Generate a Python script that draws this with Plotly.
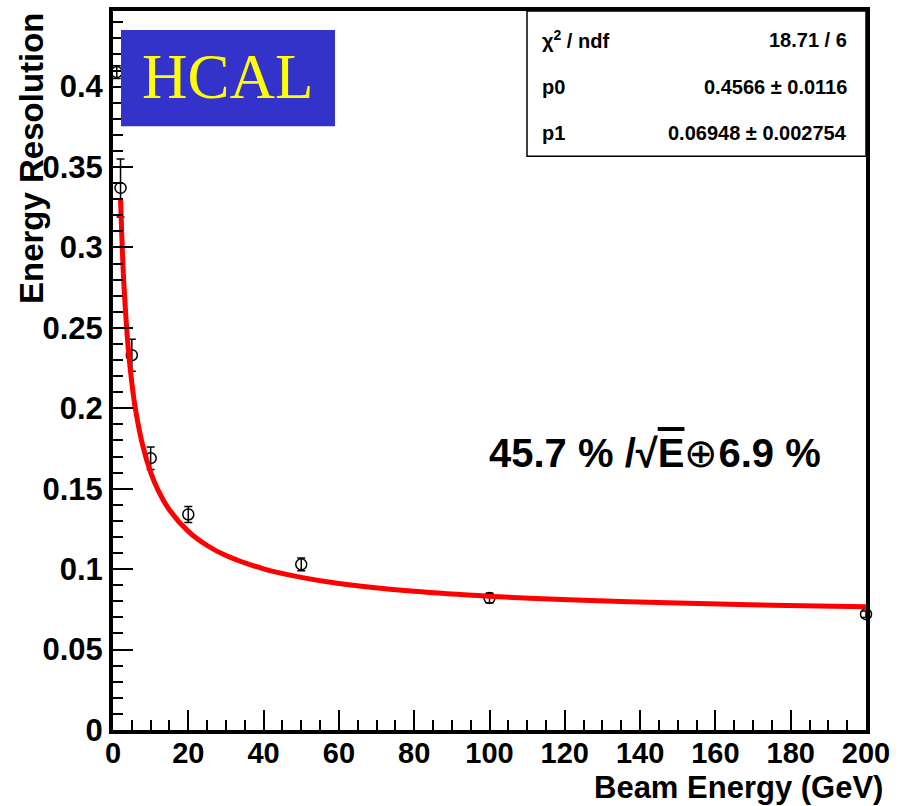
import plotly.graph_objects as go

# ---- data ----
beam_energy = [1, 2, 5, 10, 20, 50, 100, 200]
resolution = [0.409, 0.337, 0.233, 0.169, 0.134, 0.103, 0.082, 0.072]
res_error = [0.004, 0.018, 0.010, 0.007, 0.005, 0.004, 0.003, 0.002]

fit_energy = [2, 2.5, 3, 4, 5, 6, 8, 10, 12, 15, 20, 25, 30, 40, 50, 60, 80, 100, 125, 150, 175, 200]
fit_resolution = [0.330, 0.297, 0.2726, 0.2386, 0.2157, 0.1989, 0.1758, 0.1602, 0.1490, 0.1368,
                  0.1235, 0.1147, 0.1085, 0.1002, 0.0949, 0.0911, 0.0862, 0.0831, 0.0806,
                  0.0789, 0.0776, 0.0766]

stats_labels = ["χ<sup>2</sup> / ndf", "p0", "p1"]
stats_values = ["18.71 / 6", "0.4566 ± 0.0116", "0.06948 ± 0.002754"]

x_title = "Beam Energy (GeV)"
y_title = "Energy Resolution"
fit_text = ("45.7 % /√<span style='text-decoration:overline'>E</span>"
            "<span style='font-weight:normal'>⊕</span>6.9 %")
badge_text = "HCAL"

W, H = 905, 806
L, R, T, B = 113, 39, 7, 76
pw, ph = W - L - R, H - T - B

def px(x):
    return (x - L) / pw

def py(y):
    return 1 - (y - T) / ph

fig = go.Figure()

fig.add_trace(go.Scatter(
    x=beam_energy, y=resolution, mode="markers",
    marker=dict(symbol="circle-open", size=11, color="black", line=dict(width=1.5)),
    error_y=dict(type="data", array=res_error, color="black", thickness=1.5, width=4),
    showlegend=False, cliponaxis=False,
))
fig.add_trace(go.Scatter(
    x=fit_energy, y=fit_resolution, mode="lines", line_shape="spline",
    line=dict(color="#ff0000", width=5), showlegend=False,
))

font = "Liberation Sans, Arial, sans-serif"

fig.update_layout(
    width=W, height=H,
    margin=dict(l=L, r=R, t=T, b=B),
    paper_bgcolor="white", plot_bgcolor="white",
    xaxis=dict(
        range=[0, 200], dtick=20, tick0=0,
        ticks="inside", ticklen=20, tickwidth=1.5, tickcolor="black",
        minor=dict(dtick=5, ticks="inside", ticklen=10, tickcolor="black", tickwidth=1.5),
        showgrid=False, zeroline=False,
        showline=True, linewidth=4, linecolor="black", mirror=True,
        ticklabelstandoff=-6,
        tickfont=dict(family=font, size=29, color="black", weight="bold"),
    ),
    yaxis=dict(
        range=[0, 0.447], dtick=0.05, tick0=0,
        ticks="inside", ticklen=20, tickwidth=1.5, tickcolor="black",
        minor=dict(dtick=0.01, ticks="inside", ticklen=10, tickcolor="black", tickwidth=1.5),
        showgrid=False, zeroline=False,
        showline=True, linewidth=4, linecolor="black", mirror=True,
        tickfont=dict(family=font, size=31, color="black", weight="bold"),
    ),
)

shapes = []
# HCAL badge
shapes.append(dict(type="rect", xref="paper", yref="paper",
                   x0=px(121), x1=px(335), y0=py(123), y1=py(26),
                   fillcolor="#3333cc", line=dict(width=0), layer="above"))
# stats box
shapes.append(dict(type="rect", xref="paper", yref="paper",
                   x0=px(527), x1=px(866), y0=py(153), y1=py(7),
                   fillcolor="white", line=dict(color="black", width=1.5), layer="above"))
fig.update_layout(shapes=shapes)

ann = []
ann.append(dict(text=badge_text, xref="paper", yref="paper", x=px(228), y=py(73),
                showarrow=False, xanchor="center", yanchor="middle",
                font=dict(family="Liberation Serif, Times New Roman, serif", size=63, color="#ffff00")))
row_y = [36, 83, 130]
for lab, val, yy in zip(stats_labels, stats_values, row_y):
    ann.append(dict(text=lab, xref="paper", yref="paper", x=px(540), y=py(yy),
                    showarrow=False, xanchor="left", yanchor="middle",
                    font=dict(family=font, size=20, color="black", weight="bold")))
    ann.append(dict(text=val, xref="paper", yref="paper", x=px(849), y=py(yy),
                    showarrow=False, xanchor="right", yanchor="middle",
                    font=dict(family=font, size=20, color="black", weight="bold")))
ann.append(dict(text=fit_text, xref="paper", yref="paper", x=px(487), y=py(451),
                showarrow=False, xanchor="left", yanchor="middle",
                font=dict(family=font, size=40, color="black", weight="bold")))
ann.append(dict(text=x_title, xref="paper", yref="paper", x=px(884), y=py(806),
                showarrow=False, xanchor="right", yanchor="bottom", borderpad=0,
                font=dict(family=font, size=31, color="black", weight="bold")))
ann.append(dict(text=y_title, xref="paper", yref="paper", x=px(31), y=py(6),
                showarrow=False, xanchor="center", yanchor="top", textangle=-90,
                font=dict(family=font, size=33, color="black", weight="bold")))
fig.update_layout(annotations=ann)

fig.write_html("out.html")
